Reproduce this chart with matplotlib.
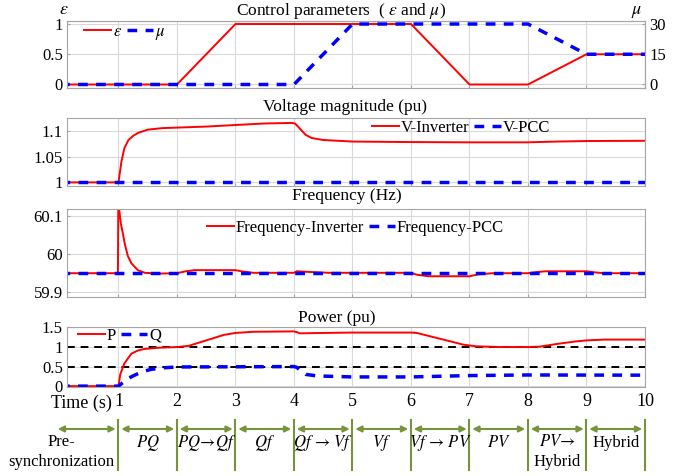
import matplotlib.pyplot as plt

plt.rcParams['font.family'] = ['Liberation Serif', 'DejaVu Serif']
plt.rcParams['mathtext.fontset'] = 'stix'
plt.rcParams['font.size'] = 12

# control parameters
t_eps = [0, 2, 3, 6, 7, 8, 9, 10]
eps = [0, 0, 1, 1, 0, 0, 0.5, 0.5]
t_mu = [0, 4, 5, 8, 9, 10]
mu = [0, 0, 30, 30, 15, 15]

# voltage magnitude (pu)
t_v = [0, 1.0, 1.05, 1.1, 1.17, 1.25, 1.34, 1.5, 1.75, 2.0, 2.5, 3.0, 3.5,
       3.95, 4.02, 4.1, 4.2, 4.3, 4.5, 5.0, 6.0, 7.0, 8.0, 8.5, 9.0, 10.0]
v_inv = [1.0, 1.0, 1.04, 1.066, 1.082, 1.09, 1.096, 1.102, 1.105, 1.106,
         1.108, 1.111, 1.114, 1.115, 1.114, 1.104, 1.092, 1.086, 1.082,
         1.079, 1.078, 1.0775, 1.0775, 1.079, 1.080, 1.0805]
t_vpcc = [0, 10]
v_pcc = [1.0, 1.0]

# frequency (Hz)
t_f = [0, 0.99, 1.0, 1.01, 1.04, 1.074, 1.11, 1.16, 1.22, 1.33, 1.45, 1.7,
       2.0, 2.15, 2.3, 3.0, 3.1, 3.3, 4.0, 4.05, 4.3, 4.6, 6.0, 6.1, 6.3,
       7.0, 7.15, 7.4, 8.0, 8.15, 8.3, 9.0, 9.15, 9.3, 10]
f_inv = [59.95, 59.95, 60.2, 60.12, 60.08, 60.055, 60.025, 59.995, 59.976,
         59.958, 59.951, 59.949, 59.95, 59.955, 59.958, 59.958, 59.955,
         59.951, 59.951, 59.955, 59.953, 59.951, 59.951, 59.946, 59.942,
         59.942, 59.947, 59.95, 59.95, 59.953, 59.955, 59.955, 59.952,
         59.95, 59.95]
t_fpcc = [0, 10]
f_pcc = [59.95, 59.95]

# power (pu)
t_p = [0, 1.0, 1.03, 1.1, 1.22, 1.33, 1.44, 1.67, 2.0, 2.2, 2.5, 2.8, 3.0,
       3.3, 4.0, 4.05, 4.1, 4.5, 5.0, 6.0, 6.1, 6.5, 6.9, 7.1, 7.5, 8.0,
       8.2, 8.5, 8.8, 9.0, 9.3, 10]
p = [0, 0, 0.3, 0.58, 0.83, 0.91, 0.95, 0.98, 1.0, 1.03, 1.17, 1.31, 1.36,
     1.39, 1.40, 1.38, 1.35, 1.36, 1.37, 1.37, 1.36, 1.21, 1.06, 1.02, 1.0,
     1.0, 1.01, 1.08, 1.14, 1.17, 1.19, 1.19]
t_q = [0, 1.0, 1.1, 1.22, 1.39, 1.56, 1.78, 2.0, 4.0, 4.05, 4.1, 4.2, 4.4,
       5.0, 6.0, 7.0, 8.0, 10]
q = [0, 0, 0.12, 0.24, 0.36, 0.43, 0.47, 0.49, 0.5, 0.48, 0.41, 0.3, 0.26,
     0.235, 0.235, 0.27, 0.285, 0.28]
ref_levels = [1.0, 0.5]

# tick labels
eps_ticks = [0, 0.5, 1]
eps_ticklabels = ['0', '0.5', '1']
mu_ticks = [0, 15, 30]
mu_ticklabels = ['0', '15', '30']
v_ticks = [1, 1.05, 1.1]
v_ticklabels = ['1', '1.05', '1.1']
f_ticks = [59.9, 60, 60.1]
f_ticklabels = ['59.9', '60', '60.1']
p_ticks = [0, 0.5, 1, 1.5]
p_ticklabels = ['0', '0.5', '1', '1.5']
time_ticks = [1, 2, 3, 4, 5, 6, 7, 8, 9, 10]
time_ticklabels = ['1', '2', '3', '4', '5', '6', '7', '8', '9', '10']

# operating modes under the time axis
mode_bounds = [1, 2, 3, 4, 5, 6, 7, 8, 9, 10]
mode_labels = [r'$PQ$', r'$PQ\!\rightarrow\!Qf$', r'$Qf$',
               r'$Qf\,\rightarrow\,Vf$', r'$Vf$', r'$Vf\,\rightarrow\,PV$',
               r'$PV$', r'$PV\!\rightarrow$' + '\nHybrid', 'Hybrid']

RED = '#ff0000'
BLUE = '#0000ff'
GREEN = '#77933c'
GRID = '#d9d9d9'
FRAME = '#a6a6a6'
X0 = 0.12
EPS = r'$\varepsilon$'

fig = plt.figure(figsize=(6.88, 4.76), dpi=100)
W, H = 688.0, 476.0
left, width = 67 / W, 578 / W


def make_ax(top_px, bottom_px):
    return fig.add_axes([left, (H - bottom_px) / H, width,
                         (bottom_px - top_px) / H])


def style(ax, yticks, ylabels, ylim):
    ax.set_xlim(X0, 10)
    ax.set_ylim(*ylim)
    ax.set_xticks(time_ticks)
    ax.set_yticks(yticks)
    ax.set_yticklabels(ylabels)
    ax.grid(True, color=GRID, lw=0.8)
    ax.set_axisbelow(True)
    for s in ax.spines.values():
        s.set_color(FRAME)
    ax.tick_params(direction='in', length=2, color=FRAME, labelsize=12,
                   pad=3)
    ax.tick_params(axis='x', labelbottom=False)


def title(ax, text, x, dy):
    ax.annotate(text, xy=(x, 1), xycoords='axes fraction',
                xytext=(0, dy), textcoords='offset pixels',
                ha='center', va='center', fontsize=12.5)


leg_kw = dict(loc='center left', frameon=False, handlelength=1.6,
              handletextpad=0.1, columnspacing=0.3, borderpad=0,
              borderaxespad=0, fontsize=12, ncol=2)
dash = (2.8, 2.4)

# panel 1: control parameters
ax1 = make_ax(20.5, 88)
style(ax1, eps_ticks, eps_ticklabels, (-0.058, 1.058))
l_eps, = ax1.plot(t_eps, eps, color=RED, lw=1.4)
ax1b = ax1.twinx()
ax1b.set_ylim(-1.74, 31.74)
ax1b.set_yticks(mu_ticks)
ax1b.set_yticklabels(mu_ticklabels)
ax1b.tick_params(direction='in', length=2, color=FRAME, labelsize=12, pad=3)
for s in ax1b.spines.values():
    s.set_color(FRAME)
l_mu, = ax1b.plot(t_mu, mu, color=BLUE, lw=2.5, dashes=dash)
ax1b.legend([l_eps, l_mu], [EPS, r'$\mu$'],
            bbox_to_anchor=(0.03, 0.81), **leg_kw)
title(ax1, 'Control parameters  ( ' + EPS + r' and $\mu$)', 0.474, 10)
ax1.text(-0.005, 1.16, EPS, transform=ax1.transAxes,
         ha='center', va='center', fontsize=13)
ax1.text(0.985, 1.14, r'$\mu$', transform=ax1.transAxes,
         ha='center', va='center', fontsize=13)

# panel 2: voltage
ax2 = make_ax(118.3, 186)
style(ax2, v_ticks, v_ticklabels, (0.993, 1.124))
ax2.plot(t_v, v_inv, color=RED, lw=1.4, label='V-Inverter')
ax2.plot(t_vpcc, v_pcc, color=BLUE, lw=2.5, dashes=dash, label='V-PCC')
ax2.legend(bbox_to_anchor=(0.528, 0.86), **leg_kw)
title(ax2, 'Voltage magnitude (pu)', 0.481, 11)

# panel 3: frequency
ax3 = make_ax(209.3, 297.3)
style(ax3, f_ticks, f_ticklabels, (59.887, 60.117))
ax3.plot(t_f, f_inv, color=RED, lw=1.4, label='Frequency-Inverter')
ax3.plot(t_fpcc, f_pcc, color=BLUE, lw=2.5, dashes=dash,
         label='Frequency-PCC')
ax3.legend(bbox_to_anchor=(0.242, 0.79), **leg_kw)
title(ax3, 'Frequency (Hz)', 0.484, 13)

# panel 4: power
ax4 = make_ax(326.7, 387.3)
style(ax4, p_ticks, p_ticklabels, (-0.03, 1.52))
for lvl in ref_levels:
    ax4.axhline(lvl, color='black', lw=1.4, dashes=(4, 3))
ax4.plot(t_p, p, color=RED, lw=1.4, label='P')
ax4.plot(t_q, q, color=BLUE, lw=2.5, dashes=dash, label='Q')
ax4.legend(bbox_to_anchor=(0.019, 0.85), **leg_kw)
ax4.tick_params(axis='x', labelbottom=True, length=0, pad=4)
ax4.set_xticklabels(time_ticklabels, fontsize=13)
ax4.annotate('Time (s)', xy=(0.88, 0), xycoords=('data', 'axes fraction'),
             xytext=(0, -5.5), textcoords='offset points',
             ha='right', va='top', fontsize=13)
title(ax4, 'Power (pu)', 0.467, 9)

# mode strip
ax5 = fig.add_axes([left, 0, width, 80 / H])
ax5.set_xlim(X0, 10)
ax5.set_ylim(0, 1)
ax5.axis('off')
for b in mode_bounds:
    ax5.plot([b, b], [0.075, 0.7], color=GREEN, lw=1.5, clip_on=False)
arrow = dict(arrowstyle='<|-|>', color=GREEN, lw=1.5, mutation_scale=9,
             shrinkA=2, shrinkB=2)
ax5.annotate('', xy=(-0.085, 0.5875), xytext=(1, 0.5875),
             arrowprops=arrow, annotation_clip=False)
ax5.text(0.02, 0.3, 'Pre-\nsynchronization', ha='center', va='center',
         fontsize=12, linespacing=1.25)
for i in range(len(mode_bounds) - 1):
    a, b = mode_bounds[i], mode_bounds[i + 1]
    ax5.annotate('', xy=(a, 0.5875), xytext=(b, 0.5875), arrowprops=arrow)
    lab = mode_labels[i]
    if '\n' in lab:
        ax5.text((a + b) / 2, 0.3, lab, ha='center', va='center',
                 fontsize=12, linespacing=1.25)
    else:
        ax5.text((a + b) / 2, 0.4125, lab, ha='center', va='center',
                 fontsize=12)

fig.savefig('out.png', dpi=100)
